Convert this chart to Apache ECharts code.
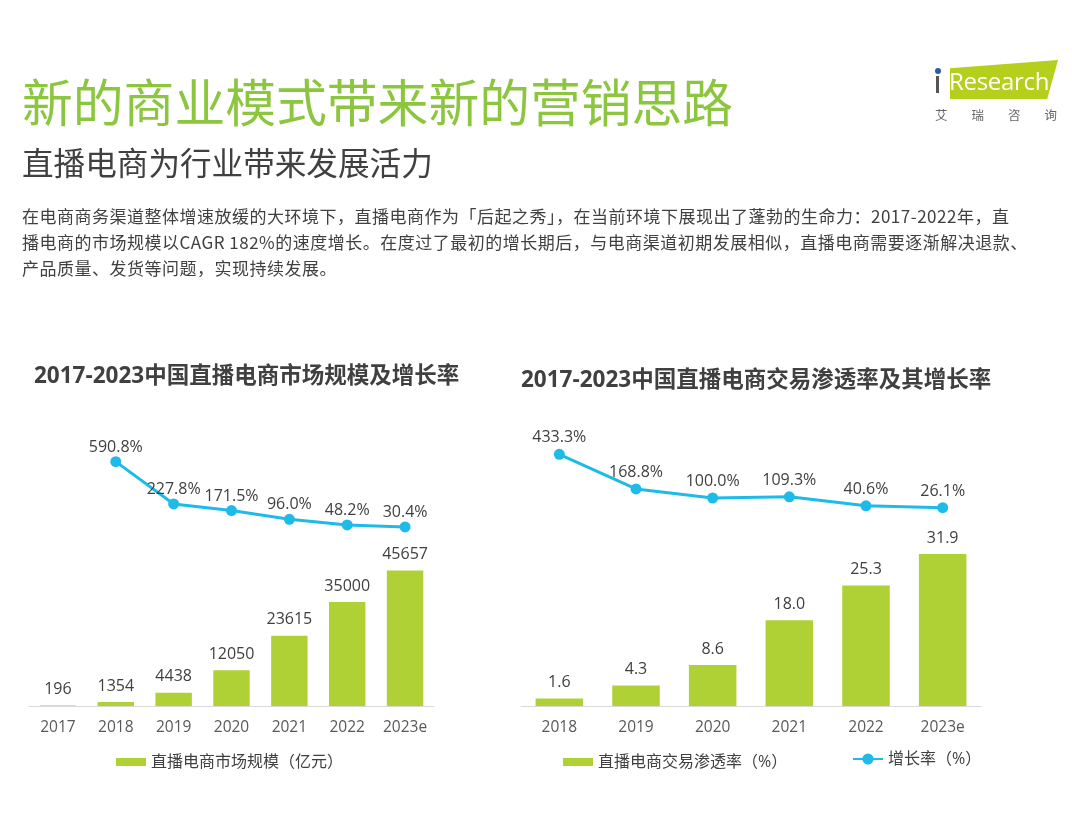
<!DOCTYPE html>
<html>
<head>
<meta charset="utf-8">
<script src="https://cdn.jsdelivr.net/npm/echarts@6/dist/echarts.min.js"></script>
<style>
  html, body { margin: 0; padding: 0; background: #fff; }
  body { width: 1072px; height: 815px; position: relative; overflow: hidden;
         font-family: "Noto Sans CJK SC", "Open Sans", sans-serif; }
  #chart { position: absolute; left: 0; top: 0; width: 1072px; height: 815px; }
  .h1 { position: absolute; left: 22px; top: 73px; font-size: 50.8px; line-height: 54px;
        color: #8cc63e; white-space: nowrap; }
  .h2 { position: absolute; left: 22px; top: 144px; font-size: 31.6px; line-height: 35px;
        color: #404040; white-space: nowrap; }
  .intro { position: absolute; left: 22px; top: 203px; font-size: 17px; line-height: 26px;
           letter-spacing: 0.5px; color: #404040; white-space: nowrap; }
  .logo { position: absolute; left: 930px; top: 55px; width: 135px; height: 70px; }
  .logo .shape { position: absolute; left: 20px; top: 5px; width: 108px; height: 39px;
                 background: #b4cf1c; clip-path: polygon(0 21%, 100% 0, 90% 100%, 0 100%); }
  .logo .word { position: absolute; left: 19px; top: 10px; font-family: "Open Sans", sans-serif;
                font-size: 24px; line-height: 32px; color: #fff; letter-spacing: -0.3px; }
  .logo .stem { position: absolute; left: 6px; top: 21px; width: 3px; height: 17px; background: #555; }
  .logo .dot { position: absolute; left: 4.5px; top: 13px; width: 6px; height: 6px;
               border-radius: 50%; background: #2a5caa; }
  .logo .cn { position: absolute; left: 5px; top: 50px; font-size: 12.5px; color: #666;
              letter-spacing: 24px; white-space: nowrap; }
</style>
</head>
<body>
<div id="chart"></div>
<div class="h1">新的商业模式带来新的营销思路</div>
<div class="h2">直播电商为行业带来发展活力</div>
<div class="intro">在电商商务渠道整体增速放缓的大环境下，直播电商作为「后起之秀」，在当前环境下展现出了蓬勃的生命力：2017-2022年，直<br>播电商的市场规模以CAGR 182%的速度增长。在度过了最初的增长期后，与电商渠道初期发展相似，直播电商需要逐渐解决退款、<br>产品质量、发货等问题，实现持续发展。</div>
<div class="logo">
  <div class="shape"></div>
  <div class="word">Research</div>
  <div class="stem"></div>
  <div class="dot"></div>
  <div class="cn">艾瑞咨询</div>
</div>
<script>
// 左图：市场规模（亿元）及增长率
const yearsA = ['2017', '2018', '2019', '2020', '2021', '2022', '2023e']
const scaleA = [196, 1354, 4438, 12050, 23615, 35000, 45657]
const growthA = [null, 590.8, 227.8, 171.5, 96.0, 48.2, 30.4]

// 右图：交易渗透率（%）及增长率
const yearsB = ['2018', '2019', '2020', '2021', '2022', '2023e']
const rateB = [1.6, 4.3, 8.6, 18.0, 25.3, 31.9]
const growthB = [433.3, 168.8, 100.0, 109.3, 40.6, 26.1]

const BAR_COLOR = '#afd136'
const LINE_COLOR = '#1fbbe8'
const TEXT_COLOR = '#404040'
const FONT = '"Open Sans", "Noto Sans CJK SC", sans-serif'

const chart = echarts.init(document.getElementById('chart'))

const xAxisStyle = {
  type: 'category',
  axisLine: { lineStyle: { color: '#d9d9d9', width: 1 } },
  axisTick: { show: false },
  axisLabel: { color: '#595959', fontSize: 15.5, fontFamily: FONT, margin: 14, interval: 0 }
}

const barLabel = {
  show: true,
  position: 'top',
  distance: 8,
  color: TEXT_COLOR,
  fontSize: 16,
  fontFamily: FONT
}

const lineLabel = {
  show: true,
  position: 'top',
  distance: 1,
  color: TEXT_COLOR,
  fontSize: 16,
  fontFamily: FONT,
  formatter: p => p.value.toFixed(1) + '%'
}

const legendText = { color: TEXT_COLOR, fontSize: 16, fontFamily: FONT }
const titleText = { color: TEXT_COLOR, fontSize: 22.5, fontWeight: 'bold', fontFamily: FONT }

chart.setOption({
  animation: false,
  title: [
    {
      text: '2017-2023中国直播电商市场规模及增长率',
      left: 34, top: 365, padding: 0,
      textStyle: titleText
    },
    {
      text: '2017-2023中国直播电商交易渗透率及其增长率',
      left: 521, top: 369, padding: 0,
      textStyle: titleText
    }
  ],
  legend: [
    {
      data: ['直播电商市场规模（亿元）'],
      left: 116, top: 754, padding: 0,
      icon: 'rect', itemWidth: 30, itemHeight: 8,
      textStyle: legendText
    },
    {
      data: ['直播电商交易渗透率（%）'],
      left: 563, top: 754, padding: 0,
      icon: 'rect', itemWidth: 30, itemHeight: 8,
      textStyle: legendText
    },
    {
      data: ['增长率（%）'],
      left: 852, top: 751, padding: 0,
      itemWidth: 30, itemHeight: 14, itemGap: 3,
      textStyle: legendText
    }
  ],
  grid: [
    { left: 29, width: 405, top: 436, height: 270 },
    { left: 521, width: 460, top: 436, height: 270 }
  ],
  xAxis: [
    { ...xAxisStyle, gridIndex: 0, data: yearsA },
    { ...xAxisStyle, gridIndex: 1, data: yearsB }
  ],
  yAxis: [
    { type: 'value', gridIndex: 0, min: 0, max: 90900, show: false },
    { type: 'value', gridIndex: 0, min: -1506, max: 811, show: false },
    { type: 'value', gridIndex: 1, min: 0, max: 56.7, show: false },
    { type: 'value', gridIndex: 1, min: -1487, max: 573, show: false }
  ],
  series: [
    {
      name: '直播电商市场规模（亿元）', type: 'bar',
      xAxisIndex: 0, yAxisIndex: 0, data: scaleA,
      barWidth: '63%', itemStyle: { color: BAR_COLOR },
      label: barLabel
    },
    {
      name: '增长率A', type: 'line',
      xAxisIndex: 0, yAxisIndex: 1, data: growthA,
      symbol: 'circle', symbolSize: 11,
      lineStyle: { color: LINE_COLOR, width: 3 },
      itemStyle: { color: LINE_COLOR },
      label: lineLabel
    },
    {
      name: '直播电商交易渗透率（%）', type: 'bar',
      xAxisIndex: 1, yAxisIndex: 2, data: rateB,
      barWidth: '62%', itemStyle: { color: BAR_COLOR },
      label: { ...barLabel, formatter: p => p.value.toFixed(1) }
    },
    {
      name: '增长率（%）', type: 'line',
      xAxisIndex: 1, yAxisIndex: 3, data: growthB,
      symbol: 'circle', symbolSize: 11,
      lineStyle: { color: LINE_COLOR, width: 3 },
      itemStyle: { color: LINE_COLOR },
      label: { ...lineLabel, distance: 3 }
    }
  ]
})
</script>
</body>
</html>
